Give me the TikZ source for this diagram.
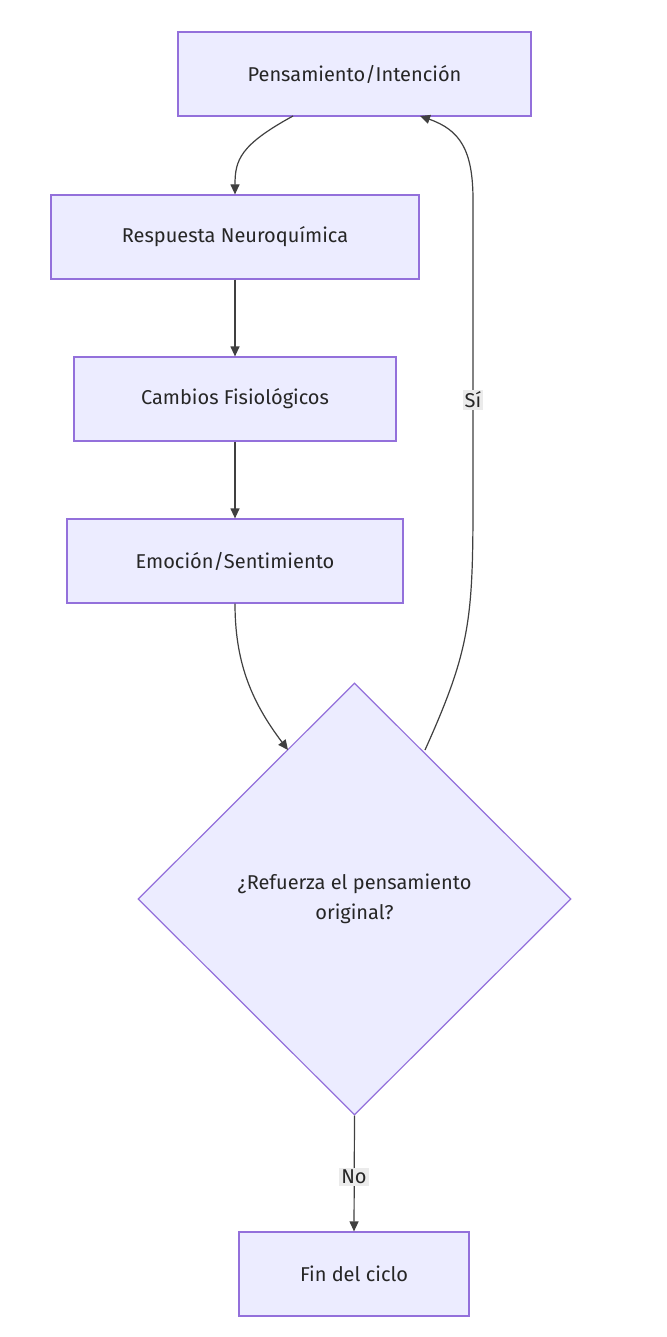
\documentclass[tikz,border=0pt]{standalone}
\usepackage{fontspec}
\setmainfont{Fira Sans}
\usetikzlibrary{shapes.geometric,arrows.meta}
\begin{document}
\begin{tikzpicture}[x=1pt,y=-1pt,
  box/.style={draw=mmstroke,fill=mmfill,line width=1.2pt,inner sep=0pt,font=\fontsize{20}{30}\selectfont,text=black!85},
  conn/.style={draw=black!75,line width=1.2pt,-{Triangle[length=10pt,width=9pt]}},
  lbl/.style={fill=black!8,inner sep=2pt,font=\fontsize{20}{24}\selectfont,text=black!85}]
\definecolor{mmstroke}{HTML}{9370DB}
\definecolor{mmfill}{HTML}{ECECFF}
\useasboundingbox[fill=white] (0,0) rectangle (666,1337);
\node[box,minimum width=353pt,minimum height=84pt] (p) at (354.5,74) {Pensamiento/Intención};
\node[box,minimum width=368pt,minimum height=84pt] (r) at (235,237) {Respuesta Neuroquímica};
\node[box,minimum width=322pt,minimum height=84pt] (c) at (235,399) {Cambios Fisiológicos};
\node[box,minimum width=336pt,minimum height=84pt] (e) at (235,561) {Emoción/Sentimiento};
\node[box,diamond,minimum width=433pt,minimum height=432pt,align=center] (d) at (354.5,899) {¿Refuerza el pensamiento\\original?};
\node[box,minimum width=230pt,minimum height=84pt] (f) at (354,1274) {Fin del ciclo};
\coordinate (ps) at (293,116);
\coordinate (pe) at (420,116);
\coordinate (de) at (288,750);
\coordinate (ds) at (425,750);
\draw[conn] (ps) .. controls (240,145) and (235,160) .. (r.north);
\draw[conn] (r) -- (c);
\draw[conn] (c) -- (e);
\draw[conn] (e.south) .. controls (235,660) and (250,700) .. (de);
\draw[conn] (ds) .. controls (470,650) and (473,620) .. (473,500) -- (473,200) .. controls (473,150) and (460,130) .. (pe);
\node[lbl] (si) at (473,400) {Sí};
\draw[conn] (d.south) -- (f.north);
\node[lbl] (no) at (354,1177) {No};
\end{tikzpicture}
\end{document}
